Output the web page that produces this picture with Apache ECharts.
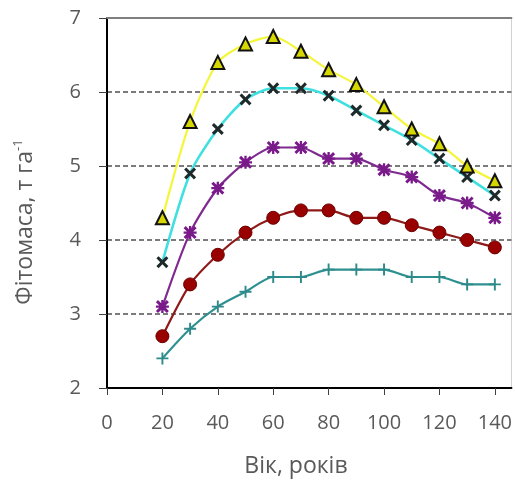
<!DOCTYPE html>
<html>
<head>
<meta charset="utf-8">
<script src="https://cdn.jsdelivr.net/npm/echarts@6/dist/echarts.min.js"></script>
<style>
  html, body { margin: 0; padding: 0; background: #fff; }
  #chart { width: 515px; height: 483px; }
</style>
</head>
<body>
<div id="chart"></div>
<script>
// Stand age, years
const ages = [20, 30, 40, 50, 60, 70, 80, 90, 100, 110, 120, 130, 140];
// Phytomass, t/ha, for five stand groups
const seriesTriangle = [4.3, 5.6, 6.4, 6.65, 6.75, 6.55, 6.3, 6.1, 5.8, 5.5, 5.3, 5.0, 4.8];
const seriesCross    = [3.7, 4.9, 5.5, 5.9, 6.05, 6.05, 5.95, 5.75, 5.55, 5.35, 5.1, 4.85, 4.6];
const seriesStar     = [3.1, 4.1, 4.7, 5.05, 5.25, 5.25, 5.1, 5.1, 4.95, 4.85, 4.6, 4.5, 4.3];
const seriesCircle   = [2.7, 3.4, 3.8, 4.1, 4.3, 4.4, 4.4, 4.3, 4.3, 4.2, 4.1, 4.0, 3.9];
const seriesPlus     = [2.4, 2.8, 3.1, 3.3, 3.5, 3.5, 3.6, 3.6, 3.6, 3.5, 3.5, 3.4, 3.4];
// Axis tick labels
const xTicks = [0, 20, 40, 60, 80, 100, 120, 140];
const yTicks = [2, 3, 4, 5, 6, 7];

const FONT = '"Open Sans", "Noto Sans", sans-serif';
const TXT = '#595959';

const SYM_X = 'path://M0,1.8L1.8,0L5,3.2L8.2,0L10,1.8L6.8,5L10,8.2L8.2,10L5,6.8L1.8,10L0,8.2L3.2,5Z';
const SYM_PLUS = 'path://M4.2,0H5.8V4.2H10V5.8H5.8V10H4.2V5.8H0V4.2H4.2Z';
const SYM_STAR = 'path://M0,1.6L1.6,0L5,3.4L8.4,0L10,1.6L6.6,5L10,8.4L8.4,10L5,6.6L1.6,10L0,8.4L3.4,5Z' +
                 'M4.1,0H5.9V4.1H10V5.9H5.9V10H4.1V5.9H0V4.1H4.1Z';

function pairs(vals) { return ages.map((a, i) => [a, vals[i]]); }

function lineSeries(name, vals, lineColor, lineWidth, symbol, size, itemStyle) {
  return {
    name, type: 'line', data: pairs(vals), smooth: 0.25,
    symbol, symbolSize: size, showAllSymbol: true,
    lineStyle: { color: lineColor, width: lineWidth },
    itemStyle, emphasis: { disabled: true }
  };
}

const chart = echarts.init(document.getElementById('chart'), null, { renderer: 'canvas' });
chart.setOption({
  animation: false,
  backgroundColor: '#fff',
  grid: {
    left: 107, top: 18, right: 2, bottom: 95,
    show: true, borderColor: '#d0d0d0', borderWidth: 1, backgroundColor: 'transparent'
  },
  xAxis: [{
    type: 'value', min: 0, max: 146, interval: 20,
    axisLine: { show: true, onZero: false, lineStyle: { color: '#000', width: 2 } },
    axisTick: { show: true, length: 7, customValues: xTicks, lineStyle: { color: '#404040', width: 1 } },
    axisLabel: { customValues: xTicks, margin: 25, color: TXT, fontFamily: FONT, fontSize: 20 },
    splitLine: { show: false }
  }, {
    type: 'value', position: 'top', min: 0, max: 146,
    axisLine: { show: true, onZero: false, lineStyle: { color: '#7f7f7f', width: 2 } },
    axisTick: { show: false }, axisLabel: { show: false }, splitLine: { show: false }
  }],
  yAxis: {
    type: 'value', min: 2, max: 7, interval: 1,
    axisLine: { show: true, onZero: false, lineStyle: { color: '#000', width: 2 } },
    axisTick: { show: true, length: 8, lineStyle: { color: '#404040', width: 1 } },
    axisLabel: {
      margin: 26, color: TXT, fontFamily: FONT, fontSize: 20,
      formatter: v => (yTicks.includes(v) ? String(v) : '')
    },
    splitLine: {
      show: true, showMinLine: false, showMaxLine: false,
      lineStyle: { color: '#505050', width: 1.5, type: [5, 3] }
    }
  },
  graphic: [{
    type: 'text', x: 25, y: 222, rotation: Math.PI / 2,
    style: {
      text: '{a|Фітомаса, т га}{s|-1}',
      align: 'center', verticalAlign: 'middle',
      rich: {
        a: { fontFamily: FONT, fontSize: 23, fill: TXT },
        s: { fontFamily: FONT, fontSize: 13, fill: TXT, padding: [0, 0, 13, 0] }
      }
    }
  }, {
    type: 'text', x: 296, y: 466,
    style: {
      text: 'Вік, років', align: 'center', verticalAlign: 'middle',
      fontFamily: FONT, fontSize: 23, fill: TXT
    }
  }],
  series: [
    lineSeries('plus', seriesPlus, '#2e9090', 2.2, SYM_PLUS, 12, { color: '#2e8a8a' }),
    lineSeries('circle', seriesCircle, '#8e1a1a', 2.2, 'circle', 13,
      { color: '#990000', borderColor: '#6e0000', borderWidth: 1 }),
    lineSeries('star', seriesStar, '#7f2a90', 2.2, SYM_STAR, 13, { color: '#7a1a8a' }),
    lineSeries('cross', seriesCross, '#40e0e0', 2.6, SYM_X, 12, { color: '#1e2a2a' }),
    lineSeries('triangle', seriesTriangle, '#f5f53a', 2.2, 'triangle', 13,
      { color: '#d6d600', borderColor: '#111', borderWidth: 2 })
  ]
});
</script>
</body>
</html>
